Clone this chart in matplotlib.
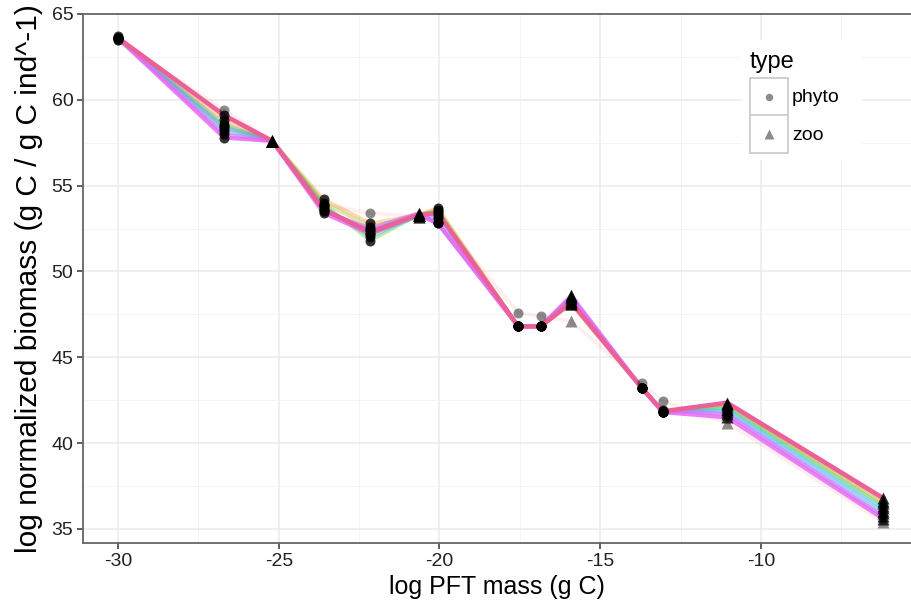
import numpy as np
import matplotlib
matplotlib.use('Agg')
import matplotlib.pyplot as plt
from matplotlib.patches import Rectangle
from matplotlib.lines import Line2D

plt.rcParams['font.family'] = ['Liberation Sans', 'DejaVu Sans']
plt.rcParams['axes.unicode_minus'] = False

# data: log PFT mass and its type
mass = [-30.0, -26.7, -25.2, -23.6, -22.15, -20.65, -20.05, -17.55, -16.85, -15.9, -13.7, -13.05, -11.05, -6.2]
pft_type = ['phyto', 'phyto', 'zoo', 'phyto', 'phyto', 'zoo', 'phyto',
            'phyto', 'phyto', 'zoo', 'phyto', 'phyto', 'zoo', 'zoo']

# log normalized biomass, one list per model run
run0 = [63.5, 59.4, 57.6, 53.9, 53.4, 53.2, 53.2, 47.6, 47.4, 47.1, 43.5, 42.45, 41.2, 35.4]
run1 = [63.6, 58.8, 57.6, 54.2, 52.8, 53.3, 53.7, 46.8, 46.8, 48.1, 43.2, 41.8, 42.3, 36.65]
run2 = [63.6, 58.6, 57.6, 54.0, 52.6, 53.3, 53.6, 46.8, 46.8, 48.1, 43.2, 41.8, 42.2, 36.5]
run3 = [63.5, 58.4, 57.6, 53.9, 51.8, 53.3, 53.5, 46.8, 46.8, 48.2, 43.2, 41.8, 42.1, 36.35]
run4 = [63.6, 58.2, 57.6, 53.8, 52.0, 53.3, 53.3, 46.8, 46.8, 48.3, 43.2, 41.8, 42.0, 36.2]
run5 = [63.6, 58.5, 57.6, 53.7, 52.2, 53.2, 53.1, 46.8, 46.8, 48.4, 43.2, 41.8, 41.9, 36.05]
run6 = [63.7, 58.3, 57.6, 53.6, 52.4, 53.3, 52.9, 46.8, 46.8, 48.5, 43.2, 41.8, 41.8, 35.9]
run7 = [63.6, 58.0, 57.6, 53.5, 52.5, 53.4, 52.8, 46.8, 46.8, 48.6, 43.2, 41.9, 41.7, 35.75]
run8 = [63.6, 57.8, 57.6, 53.4, 52.2, 53.3, 52.8, 46.8, 46.8, 48.5, 43.2, 41.8, 41.5, 35.6]
run9 = [63.6, 59.1, 57.6, 53.6, 52.3, 53.3, 53.4, 46.8, 46.8, 48.2, 43.2, 41.85, 42.35, 36.8]
runs = [run0, run1, run2, run3, run4, run5, run6, run7, run8, run9]

line_colors = ['#F8766D', '#E58700', '#A3A500', '#39B600', '#00BFC4',
               '#00A9FF', '#9590FF', '#C77CFF', '#E76BF3', '#EC609A']
line_alpha = [0.12, 0.3, 0.3, 0.3, 0.3, 0.3, 0.35, 0.7, 0.85, 1.0]
line_width = [2.6, 2.6, 2.6, 2.6, 2.6, 2.6, 2.6, 2.8, 3.0, 3.3]
point_alpha = [0.45, 0.8, 0.8, 0.8, 0.8, 0.8, 0.8, 0.8, 0.8, 0.8]

W, H = 911, 606
fig = plt.figure(figsize=(W / 100, H / 100), dpi=100)
ax = fig.add_axes([83 / W, 1 - 543 / H, (W - 83) / W, (543 - 14) / H])

def px(x, y):
    # pixel position in the picture -> figure fraction
    return x / W, 1 - y / H

# lines of every run
for run, col, a, lw in zip(runs, line_colors, line_alpha, line_width):
    ax.plot(mass, run, color=col, alpha=a, lw=lw, solid_joinstyle='round', zorder=2)

# points: shape by type, black (the odd run is lighter)
shapes = {'phyto': 'o', 'zoo': '^'}
msize = {'phyto': 7.2, 'zoo': 8.8}
for run, pa in zip(runs, point_alpha):
    for t in ['phyto', 'zoo']:
        xx = [m for m, tt in zip(mass, pft_type) if tt == t]
        yy = [v for v, tt in zip(run, pft_type) if tt == t]
        ax.plot(xx, yy, ls='none', marker=shapes[t], ms=msize[t], color='black',
                alpha=pa, mec='none', zorder=3)

# axes look (theme_bw)
ax.set_xticks(np.arange(-30, -9, 5))
ax.set_yticks(np.arange(35, 66, 5))
ax.set_xticks(np.arange(-32.5, -4, 5), minor=True)
ax.set_yticks(np.arange(37.5, 65, 5), minor=True)
ax.set_xlim(-31.09, -5.33)
ax.set_ylim(34.18, 65.0)
ax.grid(which='major', color='#EBEBEB', lw=1.1)
ax.grid(which='minor', color='#F4F4F4', lw=0.7)
ax.set_axisbelow(True)
ax.tick_params(which='major', length=4, width=1.1, color='#333333',
               labelsize=14, labelcolor='#222222', pad=3)
ax.tick_params(which='minor', length=0)
for s in ['left', 'bottom', 'top']:
    ax.spines[s].set_color('#666666')
    ax.spines[s].set_linewidth(1.3)
ax.spines['right'].set_visible(False)

ax.set_xlabel('log PFT mass (g C)', fontsize=18, labelpad=4)
ax.set_ylabel('log normalized biomass (g C / g C ind^-1)', fontsize=21.5, labelpad=6)

# legend drawn by hand, with key boxes like ggplot
x0, y0 = px(742, 160)
x1, y1 = px(862, 40)
fig.add_artist(Rectangle((x0, y0), x1 - x0, y1 - y0, transform=fig.transFigure,
                         facecolor='white', edgecolor='none', zorder=5))
tx, ty = px(750, 62)
fig.text(tx, ty, 'type', fontsize=17, ha='left', va='center', zorder=6)
labels = ['phyto', 'zoo']
for i, lab in enumerate(labels):
    bx0, by0 = px(750, 116 + 37 * i)
    bx1, by1 = px(788, 78 + 37 * i)
    fig.add_artist(Rectangle((bx0, by0), bx1 - bx0, by1 - by0, transform=fig.transFigure,
                             facecolor='white', edgecolor='#CCCCCC', lw=1.3, zorder=6))
    cx, cy = px(769, 97 + 37 * i)
    fig.add_artist(Line2D([cx], [cy], transform=fig.transFigure, ls='none',
                          marker=shapes[lab], ms=msize[lab] * 0.75, color='black',
                          alpha=0.45, mec='none', zorder=7))
    lx, ly = px(792, 98 + 37 * i)
    fig.text(lx, ly, lab, fontsize=14, ha='left', va='center', zorder=7)

fig.savefig('out.png', dpi=100)
